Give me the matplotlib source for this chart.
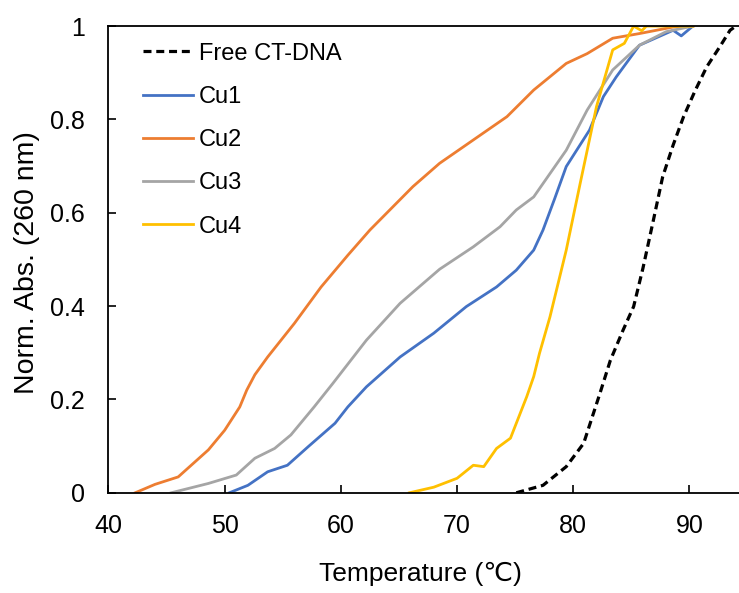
import numpy as np
import matplotlib
matplotlib.use('Agg')
import matplotlib.pyplot as plt

plt.rcParams['font.family'] = ['Liberation Sans', 'DejaVu Sans']

# melting curves (temperature in C, normalised absorbance)
dna_t = [75.1, 77.4, 79.4, 80.9, 82.3, 83.2, 84.3, 85.2, 86.0, 86.9, 87.7, 88.6, 89.5, 90.5, 91.5, 92.6, 93.5, 94.0]
dna_a = [0.0, 0.016, 0.056, 0.106, 0.213, 0.284, 0.349, 0.399, 0.481, 0.584, 0.677, 0.745, 0.806, 0.862, 0.913, 0.955, 0.991, 1.0]

cu1_t = [50.4, 52.0, 53.7, 55.4, 57.2, 59.5, 60.6, 62.2, 65.1, 68.0, 70.8, 73.4, 75.1, 76.6, 77.4, 78.4, 79.4, 81.4, 82.6, 83.7, 85.7, 88.6, 89.3, 90.3]
cu1_a = [0.0, 0.016, 0.045, 0.059, 0.099, 0.149, 0.184, 0.227, 0.291, 0.342, 0.399, 0.441, 0.477, 0.520, 0.563, 0.63, 0.699, 0.777, 0.849, 0.891, 0.959, 0.991, 0.979, 1.0]

cu2_t = [42.3, 44.0, 46.0, 48.6, 50.0, 51.3, 51.9, 52.6, 53.7, 56.0, 58.3, 60.6, 62.5, 66.2, 68.5, 71.4, 74.3, 76.6, 79.4, 81.2, 83.4, 85.7, 88.6, 90.3]
cu2_a = [0.0, 0.018, 0.034, 0.092, 0.134, 0.184, 0.22, 0.253, 0.291, 0.363, 0.441, 0.509, 0.563, 0.656, 0.706, 0.756, 0.806, 0.863, 0.920, 0.941, 0.974, 0.984, 0.998, 1.0]

cu3_t = [45.4, 48.6, 51.0, 52.6, 54.3, 55.7, 57.7, 59.3, 62.2, 65.1, 68.5, 71.4, 73.7, 75.1, 76.6, 79.4, 81.2, 83.4, 85.7, 88.0, 90.3]
cu3_a = [0.0, 0.02, 0.038, 0.074, 0.095, 0.124, 0.184, 0.234, 0.327, 0.406, 0.479, 0.527, 0.570, 0.606, 0.634, 0.734, 0.820, 0.906, 0.959, 0.988, 1.0]

cu4_t = [65.9, 68.0, 70.0, 71.4, 72.3, 73.4, 74.6, 76.0, 76.6, 77.1, 78.0, 79.4, 80.6, 82.0, 83.4, 84.4, 85.2, 85.9, 86.3, 90.3]
cu4_a = [0.0, 0.012, 0.031, 0.059, 0.056, 0.095, 0.117, 0.206, 0.249, 0.299, 0.377, 0.520, 0.663, 0.827, 0.949, 0.963, 1.0, 0.99, 1.0, 1.0]

fig = plt.figure(figsize=(7.39, 5.93), dpi=100)
ax = fig.add_axes([0.1468, 0.169, 0.8532, 0.787])

lw = 2.0
ax.plot(dna_t, dna_a, color='black', lw=2.3, dashes=(2.5, 1.5), label='Free CT-DNA')
ax.plot(cu1_t, cu1_a, color='#4472C4', lw=lw, label='Cu1')
ax.plot(cu2_t, cu2_a, color='#ED7D31', lw=lw, label='Cu2')
ax.plot(cu3_t, cu3_a, color='#A5A5A5', lw=lw, label='Cu3')
ax.plot(cu4_t, cu4_a, color='#FFC000', lw=lw, label='Cu4')

ax.set_xlim(40, 94.27)
ax.set_ylim(0, 1)
ax.set_xticks([40, 50, 60, 70, 80, 90])
ax.set_yticks([0, 0.2, 0.4, 0.6, 0.8, 1])
ax.set_yticklabels(['0', '0.2', '0.4', '0.6', '0.8', '1'])
ax.tick_params(direction='in', length=6, width=1.2, labelsize=18)
ax.tick_params(axis='y', pad=17)
ax.tick_params(axis='x', pad=15)
ax.spines['right'].set_visible(False)
for s in ('left', 'bottom', 'top'):
    ax.spines[s].set_linewidth(1.3)

ax.set_xlabel('Temperature (\u2103)', fontsize=19)
ax.set_ylabel('Norm. Abs. (260 nm)', fontsize=20.5)
ax.xaxis.set_label_coords(0.494, -0.148)
ax.yaxis.set_label_coords(-0.109, 0.494)

ax.legend(loc='upper left', frameon=False, fontsize=17, handlelength=2.14,
          handletextpad=0.24, labelspacing=0.9, borderaxespad=0.3,
          bbox_to_anchor=(0.028, 1.0))

fig.savefig('out.png', dpi=100)
